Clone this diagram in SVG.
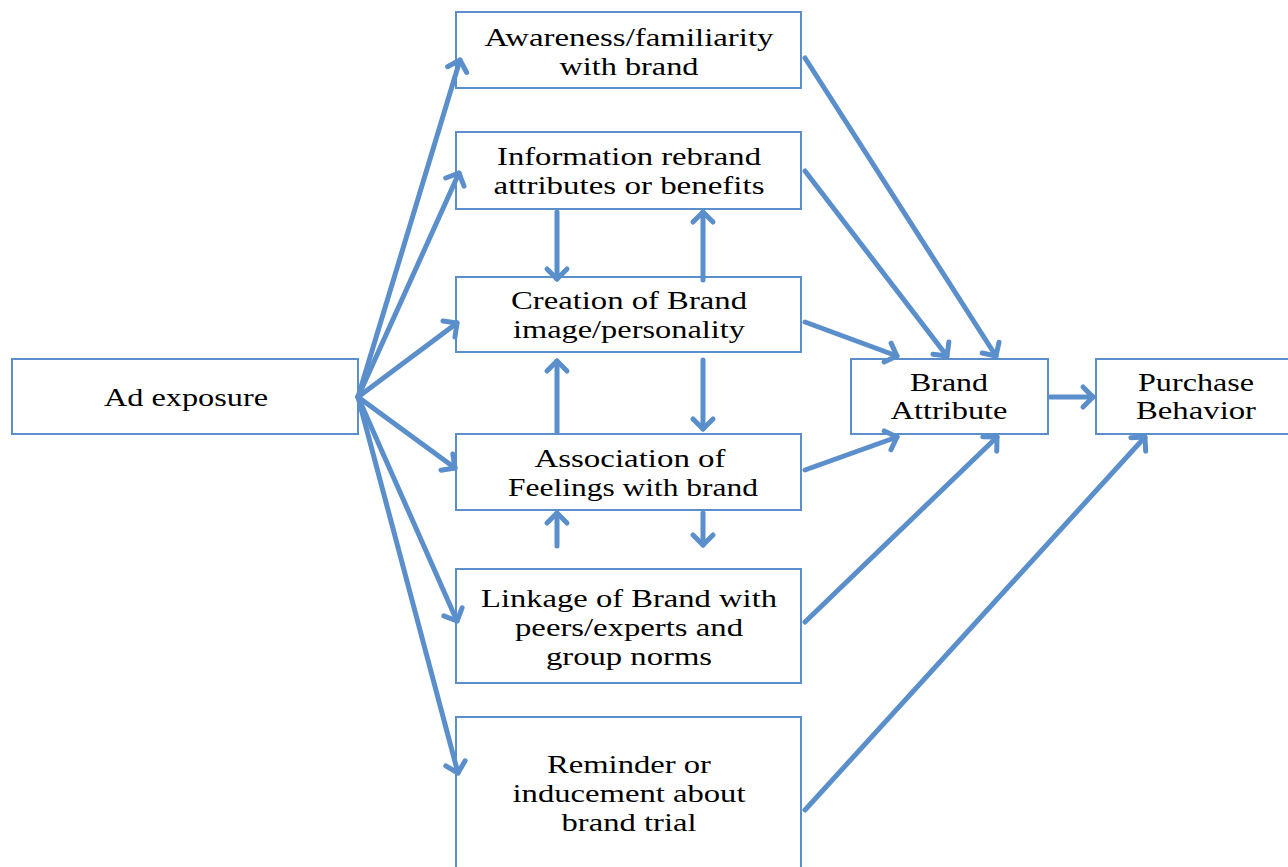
<svg xmlns="http://www.w3.org/2000/svg" width="1288" height="867" viewBox="0 0 1288 867">
<style>
.box{fill:#fff;stroke:#5b8fcb;stroke-width:2}
.t{font-family:'Liberation Serif','Times New Roman','DejaVu Serif',serif;font-size:25px;fill:#000;text-anchor:middle}
.c line{stroke:#5b8fcb;stroke-width:5;stroke-linecap:round;marker-end:url(#ah)}
</style>
<defs>
<marker id="ah" markerUnits="userSpaceOnUse" markerWidth="30" markerHeight="30" viewBox="0 0 30 30" refX="15" refY="15" orient="auto">
<path d="M5,5 L15,15 L5,25" fill="none" stroke="#5b8fcb" stroke-width="5" stroke-linecap="round" stroke-linejoin="round"/>
</marker>
</defs>
<rect width="1288" height="867" fill="#fff"/>
<g id="ad"><rect class="box" x="12" y="359" width="346" height="75"/><text class="t" x="186" y="406" textLength="164" lengthAdjust="spacingAndGlyphs">Ad exposure</text></g>
<g id="awareness"><rect class="box" x="456" y="12" width="345" height="76"/><text class="t" x="629" y="46" textLength="289" lengthAdjust="spacingAndGlyphs">Awareness/familiarity</text><text class="t" x="629" y="75" textLength="139" lengthAdjust="spacingAndGlyphs">with brand</text></g>
<g id="information"><rect class="box" x="456" y="132" width="345" height="77"/><text class="t" x="629" y="165" textLength="264" lengthAdjust="spacingAndGlyphs">Information rebrand</text><text class="t" x="629" y="194" textLength="271" lengthAdjust="spacingAndGlyphs">attributes or benefits</text></g>
<g id="creation"><rect class="box" x="456" y="277" width="345" height="75"/><text class="t" x="629" y="309" textLength="236" lengthAdjust="spacingAndGlyphs">Creation of Brand</text><text class="t" x="629" y="338" textLength="232" lengthAdjust="spacingAndGlyphs">image/personality</text></g>
<g id="association"><rect class="box" x="456" y="434" width="345" height="76"/><text class="t" x="630" y="467" textLength="191" lengthAdjust="spacingAndGlyphs">Association of</text><text class="t" x="633" y="496" textLength="250" lengthAdjust="spacingAndGlyphs">Feelings with brand</text></g>
<g id="linkage"><rect class="box" x="456" y="569" width="345" height="114"/><text class="t" x="629" y="607" textLength="296" lengthAdjust="spacingAndGlyphs">Linkage of Brand with</text><text class="t" x="629" y="636" textLength="228" lengthAdjust="spacingAndGlyphs">peers/experts and</text><text class="t" x="629" y="665" textLength="166" lengthAdjust="spacingAndGlyphs">group norms</text></g>
<g id="reminder"><rect class="box" x="456" y="717" width="345" height="152"/><text class="t" x="629" y="773" textLength="164" lengthAdjust="spacingAndGlyphs">Reminder or</text><text class="t" x="629" y="802" textLength="233" lengthAdjust="spacingAndGlyphs">inducement about</text><text class="t" x="629" y="831" textLength="135" lengthAdjust="spacingAndGlyphs">brand trial</text></g>
<g id="brandattr"><rect class="box" x="851" y="359" width="197" height="75"/><text class="t" x="949" y="391" textLength="78" lengthAdjust="spacingAndGlyphs">Brand</text><text class="t" x="949" y="419" textLength="117" lengthAdjust="spacingAndGlyphs">Attribute</text></g>
<g id="purchase"><rect class="box" x="1096" y="359" width="196" height="75"/><text class="t" x="1196" y="391" textLength="116" lengthAdjust="spacingAndGlyphs">Purchase</text><text class="t" x="1196" y="419" textLength="120" lengthAdjust="spacingAndGlyphs">Behavior</text></g>
<g class="c" id="connectors">
<line x1="358" y1="397" x2="460" y2="60"/>
<line x1="358" y1="397" x2="459" y2="173"/>
<line x1="358" y1="397" x2="457" y2="323"/>
<line x1="358" y1="397" x2="455" y2="468"/>
<line x1="358" y1="397" x2="457" y2="621"/>
<line x1="358" y1="397" x2="458" y2="773"/>
<line x1="557" y1="212" x2="557" y2="279"/>
<line x1="703" y1="280" x2="703" y2="212"/>
<line x1="557" y1="432" x2="557" y2="361"/>
<line x1="703" y1="360" x2="703" y2="429"/>
<line x1="557" y1="546" x2="557" y2="513"/>
<line x1="703" y1="513" x2="703" y2="545"/>
<line x1="805" y1="58" x2="996" y2="356"/>
<line x1="805" y1="171" x2="947" y2="356"/>
<line x1="805" y1="322" x2="897" y2="356"/>
<line x1="805" y1="470" x2="897" y2="437"/>
<line x1="805" y1="622" x2="997" y2="437"/>
<line x1="1050" y1="397" x2="1093" y2="397"/>
<line x1="805" y1="810" x2="1145" y2="437"/>
</g>
</svg>
